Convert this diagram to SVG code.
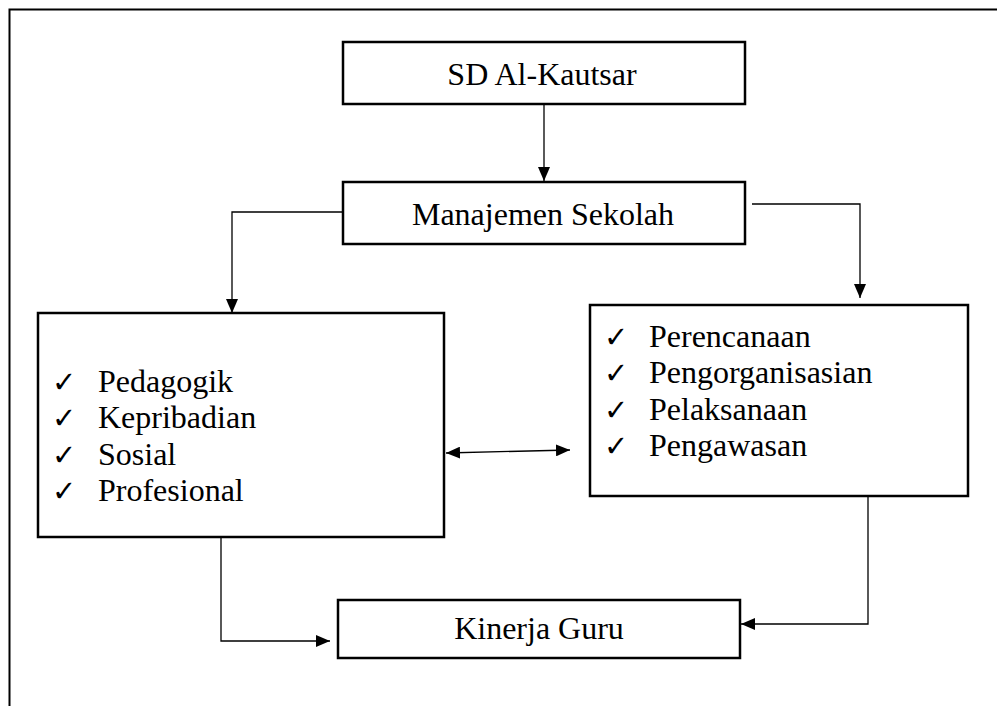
<svg xmlns="http://www.w3.org/2000/svg" width="997" height="706" viewBox="0 0 997 706">
<style>
.box{fill:#fff;stroke:#000;stroke-width:2.5}
.t{font-family:"Liberation Serif","Times New Roman",serif;font-size:32px;fill:#000}
.ck{font-family:"DejaVu Sans",sans-serif;font-size:29px;fill:#000}
.c{fill:none;stroke:#000;stroke-width:1.3}
</style>
<defs>
<marker id="ah" viewBox="0 0 14 12" refX="14" refY="6" markerWidth="14" markerHeight="12" markerUnits="userSpaceOnUse" orient="auto-start-reverse">
<path d="M0,0 L14,6 L0,12 Z" fill="#000"/>
</marker>
</defs>
<rect x="9.5" y="9.5" width="1000" height="710" fill="none" stroke="#000" stroke-width="2"/>
<g id="connectors">
<path class="c" d="M544,104 V181" marker-end="url(#ah)"/>
<path class="c" d="M343,212 H232 V313" marker-end="url(#ah)"/>
<path class="c" d="M752,204 H860 V298" marker-end="url(#ah)"/>
<path class="c" d="M446,453 L570,450" marker-start="url(#ah)" marker-end="url(#ah)"/>
<path class="c" d="M221,537 V641 H330" marker-end="url(#ah)"/>
<path class="c" d="M868,496 V624 H741" marker-end="url(#ah)"/>
</g>
<g id="sd">
<rect class="box" x="343" y="42" width="402" height="62"/>
<text class="t" x="542" y="85" text-anchor="middle">SD Al-Kautsar</text>
</g>
<g id="manajemen">
<rect class="box" x="343" y="182" width="402" height="62"/>
<text class="t" x="543" y="225" text-anchor="middle">Manajemen Sekolah</text>
</g>
<g id="kompetensi">
<rect class="box" x="38" y="313" width="406" height="224"/>
<text class="ck" x="52" y="392">✓</text><text class="t" x="98" y="392">Pedagogik</text>
<text class="ck" x="52" y="428">✓</text><text class="t" x="98" y="428">Kepribadian</text>
<text class="ck" x="52" y="465">✓</text><text class="t" x="98" y="465">Sosial</text>
<text class="ck" x="52" y="501">✓</text><text class="t" x="98" y="501">Profesional</text>
</g>
<g id="fungsi">
<rect class="box" x="590" y="305" width="378" height="191"/>
<text class="ck" x="604" y="347">✓</text><text class="t" x="649" y="347">Perencanaan</text>
<text class="ck" x="604" y="383">✓</text><text class="t" x="649" y="383">Pengorganisasian</text>
<text class="ck" x="604" y="420">✓</text><text class="t" x="649" y="420">Pelaksanaan</text>
<text class="ck" x="604" y="456">✓</text><text class="t" x="649" y="456">Pengawasan</text>
</g>
<g id="kinerja">
<rect class="box" x="338" y="600" width="402" height="58"/>
<text class="t" x="539" y="639" text-anchor="middle">Kinerja Guru</text>
</g>
</svg>
